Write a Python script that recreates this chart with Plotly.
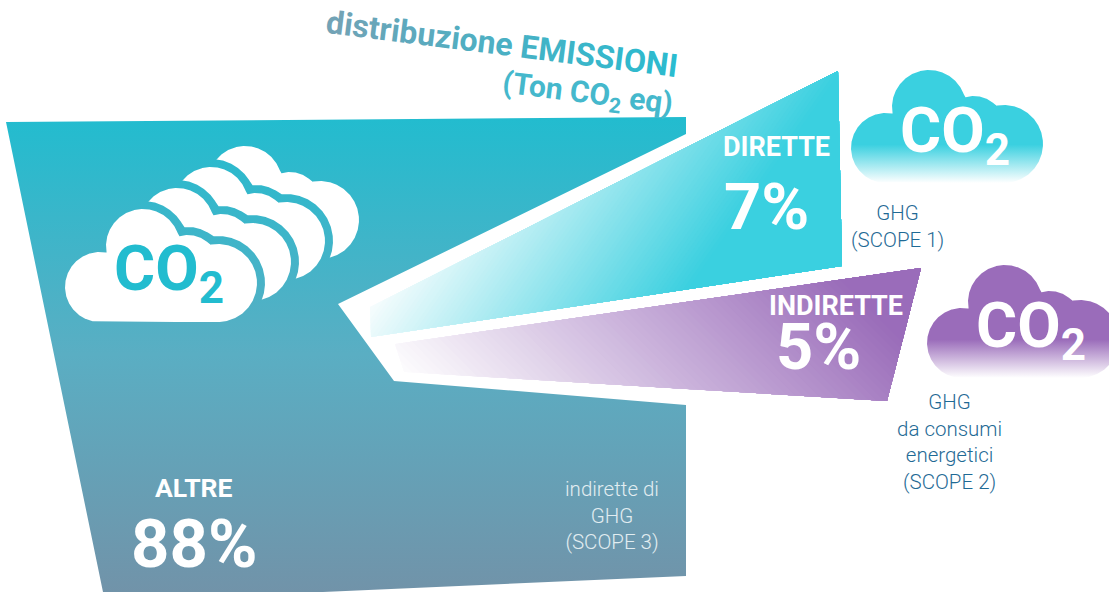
import numpy as np
import plotly.graph_objects as go

# ---- chart content -------------------------------------------------
categories = ["ALTRE", "DIRETTE", "INDIRETTE"]
shares = [88, 7, 5]
notes = ["indirette di<br>GHG<br>(SCOPE 3)", "GHG<br>(SCOPE 1)", "GHG<br>da consumi<br>energetici<br>(SCOPE 2)"]
title_line1 = "distribuzione EMISSIONI"

W, H = 1109, 592
FONT = "Roboto"
CYAN = "#3ad0e0"
PURPLE = "#9a6cba"
NOTE = "#1f6a95"

# illustration geometry in canvas units
MAIN_POLY = [(6, 122), (686, 117), (686, 134), (338, 304), (394, 381), (686, 405), (686, 576), (323, 592), (103, 592)]
DIRECT_POLY = [(370, 307), (838, 71), (842, 266), (371, 337)]
INDIRECT_POLY = [(395, 344), (921, 268), (887, 401), (404, 372)]
CLOUD_CIRCLES = [(100, 287, 35), (143, 246, 37), (188, 265, 30), (218, 283, 39)]
CLOUD_RECT = (100, 260, 218, 322)
MAIN_SCALE = [[0, "#22bccf"], [0.5, "#5aaec3"], [1, "#7193a9"]]

fig = go.Figure()


def add_fill(xs, ys, **kw):
    fig.add_trace(go.Scatter(x=xs, y=ys, mode="lines", fill="toself", line=dict(width=0),
                             hoverinfo="skip", showlegend=False, **kw))


def clip(poly, d, t0):
    out = []
    n = len(poly)
    for i in range(n):
        a, b = poly[i], poly[(i + 1) % n]
        ta, tb = a[0] * d[0] + a[1] * d[1], b[0] * d[0] + b[1] * d[1]
        if ta >= t0:
            out.append(a)
        if (ta >= t0) != (tb >= t0):
            s = (t0 - ta) / (tb - ta)
            out.append((a[0] + s * (b[0] - a[0]), a[1] + s * (b[1] - a[1])))
    return out


def diagonal(poly, d, t_start, t_end, color, bands=70):
    rgb = np.array([int(color[i:i + 2], 16) for i in (1, 3, 5)])
    ts = [p[0] * d[0] + p[1] * d[1] for p in poly]
    lo, hi = max(min(ts), t_start), min(max(ts), t_end)
    add_fill([p[0] for p in poly], [p[1] for p in poly],
             fillcolor="rgb(%d,%d,%d)" % tuple(255 + (rgb - 255) * max(0, (min(ts) - t_start) / (t_end - t_start))))
    for t in np.linspace(lo, hi, bands):
        f = (t - t_start) / (t_end - t_start)
        c = 255 + (rgb - 255) * f
        part = clip(poly, d, t)
        if len(part) >= 3:
            add_fill([p[0] for p in part], [p[1] for p in part], fillcolor="rgb(%d,%d,%d)" % tuple(c))


def cloud_outline(dx=0, dy=0, grow=0):
    cx, cy = 160.0, 285.0
    th = np.linspace(0, 2 * np.pi, 1441)
    ux, uy = np.cos(th), np.sin(th)
    best = np.zeros_like(th)
    for (x, y, r) in CLOUD_CIRCLES:
        ox, oy = cx - x, cy - y
        b = ox * ux + oy * uy
        c = ox * ox + oy * oy - (r + grow) ** 2
        disc = b * b - c
        t = np.where(disc >= 0, -b + np.sqrt(np.maximum(disc, 0)), 0)
        best = np.maximum(best, t)
    x0, y0, x1, y1 = CLOUD_RECT
    with np.errstate(divide="ignore", invalid="ignore"):
        tx = np.where(ux > 0, (x1 - cx) / ux, (x0 - cx) / ux)
        ty = np.where(uy > 0, (y1 + grow - cy) / uy, (y0 - cy) / uy)
    best = np.maximum(best, np.minimum(tx, ty))
    return (cx + best * ux + dx).tolist(), (cy + best * uy + dy).tolist()


# main wedge
vgrad = dict(type="vertical", colorscale=MAIN_SCALE, start=117, stop=592)
add_fill([p[0] for p in MAIN_POLY], [p[1] for p in MAIN_POLY], fillgradient=vgrad)

# stack of clouds on the main wedge, back to front
for k in (3, 2, 1, 0):
    ddx, ddy = 34 * k, -21 * k
    if k < 3:
        xs, ys = cloud_outline(ddx, ddy, grow=8)
        add_fill(xs, ys, fillgradient=vgrad)
    xs, ys = cloud_outline(ddx, ddy)
    add_fill(xs, ys, fillcolor="#ffffff")

# side wedges
diagonal(DIRECT_POLY, (1, 0.7), 570, 890, CYAN)
diagonal(INDIRECT_POLY, (1, -1.0), 20, 560, PURPLE)

# side clouds with fading base
for (ddx, ddy, col) in ((786, -139, CYAN), (862, 56, PURPLE)):
    xs, ys = cloud_outline(ddx, ddy)
    add_fill(xs, ys, fillgradient=dict(type="vertical", start=209 + ddy, stop=322 + ddy,
                                       colorscale=[[0, col], [0.66, col], [1, "#ffffff"]]))


def note(x, y, text, size=18, color="#ffffff", angle=0, weight=400, align="center"):
    fig.add_annotation(x=x, y=y, xref="x", yref="y", text=text, showarrow=False, textangle=angle, align=align,
                       font=dict(family=FONT, size=size, color=color, weight=weight), xanchor="center", yanchor="middle")


CO2 = "CO<sub>2</sub>"

# title with colour running across the letters
c0, c1 = np.array([0x72, 0xa3, 0xb6]), np.array([0x2a, 0xbc, 0xd0])
spans = []
for i, ch in enumerate(title_line1):
    c = c0 + (c1 - c0) * i / (len(title_line1) - 1)
    spans.append('<span style="color:rgb(%d,%d,%d)">%s</span>' % (c[0], c[1], c[2], ch))
note(502, 44, "".join(spans), size=32, angle=7.2, weight=700)
note(587, 94, "(Ton " + CO2 + " eq)", size=30, color="#45b8cc", angle=7.2, weight=700)

# category labels
note(194, 487, categories[0], size=26.5, weight=700)
note(194, 544, "%d%%" % shares[0], size=67, weight=700)
note(776, 147, categories[1], size=27, weight=700)
note(766, 207, "%d%%" % shares[1], size=65, weight=700)
note(836, 306, categories[2], size=27, weight=700)
note(818, 347, "%d%%" % shares[2], size=65, weight=700)

# notes
note(612, 515, notes[0], size=20.5, color="#e2edf1", weight=300)
note(897, 226, notes[1], size=20.5, color=NOTE, weight=300)
note(949, 442, notes[2], size=20.5, color=NOTE, weight=300)

# CO2 in the clouds
note(168.5, 273, CO2, size=63, color="#22bccf", weight=700)
note(955, 135, CO2, size=63, weight=700)
note(1031, 330, CO2, size=63, weight=700)

fig.update_layout(width=W, height=H, autosize=False, margin=dict(l=0, r=0, t=0, b=0),
                  paper_bgcolor="#ffffff", plot_bgcolor="#ffffff",
                  xaxis=dict(range=[0, W], visible=False, fixedrange=True),
                  yaxis=dict(range=[H, 0], visible=False, fixedrange=True))
fig.write_html("out.html", config={"displayModeBar": False},
               post_script="document.body.style.margin='0';document.body.style.overflow='hidden';")
